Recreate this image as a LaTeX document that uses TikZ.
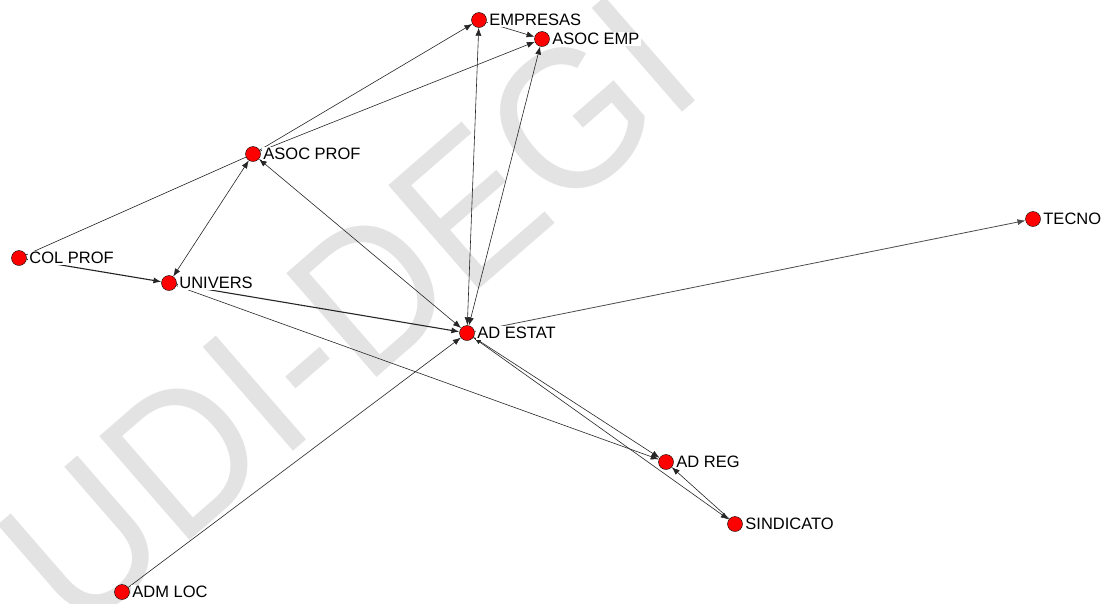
\documentclass[tikz,border=0pt]{standalone}
\usepackage{fontspec}
\setmainfont{Liberation Sans}
\usetikzlibrary{arrows.meta}
\pgfdeclarelayer{wm}
\pgfdeclarelayer{edges}
\pgfsetlayers{wm,edges,main}
\tikzset{
  actor/.style={circle,fill=red,draw=black,line width=0.4pt,minimum size=15pt,inner sep=0pt},
  lbl/.style={anchor=west,fill=white,inner sep=1.5pt,xshift=1pt,font=\fontsize{16.5}{16.5}\selectfont},
  link/.style={draw=black!85,line width=0.6pt},
  tip/.style={-{Latex[length=8pt,width=6pt]}},
  twotips/.style={{Latex[length=8pt,width=6pt]}-{Latex[length=8pt,width=6pt]}},
  heavy/.style={line width=1.1pt},
  wmark/.style={text=black!11,font=\fontsize{200}{200}\selectfont}
}
\begin{document}
\begin{tikzpicture}[x=1pt,y=-1pt]
\useasboundingbox (0,0) rectangle (1105,603);
\begin{pgfonlayer}{wm}
\fill[white] (0,0) rectangle (1105,603);
\node[wmark,rotate=41,xscale=0.93] (wm) at (348,312) {UDI-DEGI};
\end{pgfonlayer}
% actors
\node[actor] (emp) at (479,20) {};
\node[actor] (aemp) at (542,39) {};
\node[actor] (aprof) at (253,154) {};
\node[actor] (col) at (19,258) {};
\node[actor] (univ) at (169,283) {};
\node[actor] (est) at (467,333) {};
\node[actor] (tec) at (1033,219) {};
\node[actor] (reg) at (666,462) {};
\node[actor] (sind) at (735,524) {};
\node[actor] (loc) at (122,592) {};
% labels
\node[lbl] (lemp) at (emp.east) {EMPRESAS};
\node[lbl] (laemp) at (aemp.east) {ASOC EMP};
\node[lbl] (laprof) at (aprof.east) {ASOC PROF};
\node[lbl] (lcol) at (col.east) {COL PROF};
\node[lbl] (luniv) at (univ.east) {UNIVERS};
\node[lbl] (lest) at (est.east) {AD ESTAT};
\node[lbl] (ltec) at (tec.east) {TECNO};
\node[lbl] (lreg) at (reg.east) {AD REG};
\node[lbl] (lsind) at (sind.east) {SINDICATO};
\node[lbl] (lloc) at (loc.east) {ADM LOC};
% edges
\begin{pgfonlayer}{edges}
\draw[link,tip] (aprof) -- (emp);
\draw[link,tip] (aprof) -- (aemp);
\draw[link,tip] (emp) -- (aemp);
\draw[link,twotips] (emp) -- (est);
\draw[link,twotips] (aemp) -- (est);
\draw[link] (col) -- (aprof);
\draw[link,twotips] (univ) -- (aprof);
\draw[link,tip,heavy] (col) -- (univ);
\draw[link,tip,heavy] (univ) -- (est);
\draw[link,twotips] (est) -- (aprof);
\draw[link,tip,draw=black!70,line width=0.8pt] (est) -- (tec);
\draw[link,tip] (univ) -- (reg);
\draw[link,twotips] (est) -- (reg);
\draw[link,tip] (est) -- (sind);
\draw[link,tip] (sind) -- (reg);
\draw[link,tip] (loc) -- (est);
\end{pgfonlayer}
\end{tikzpicture}
\end{document}
